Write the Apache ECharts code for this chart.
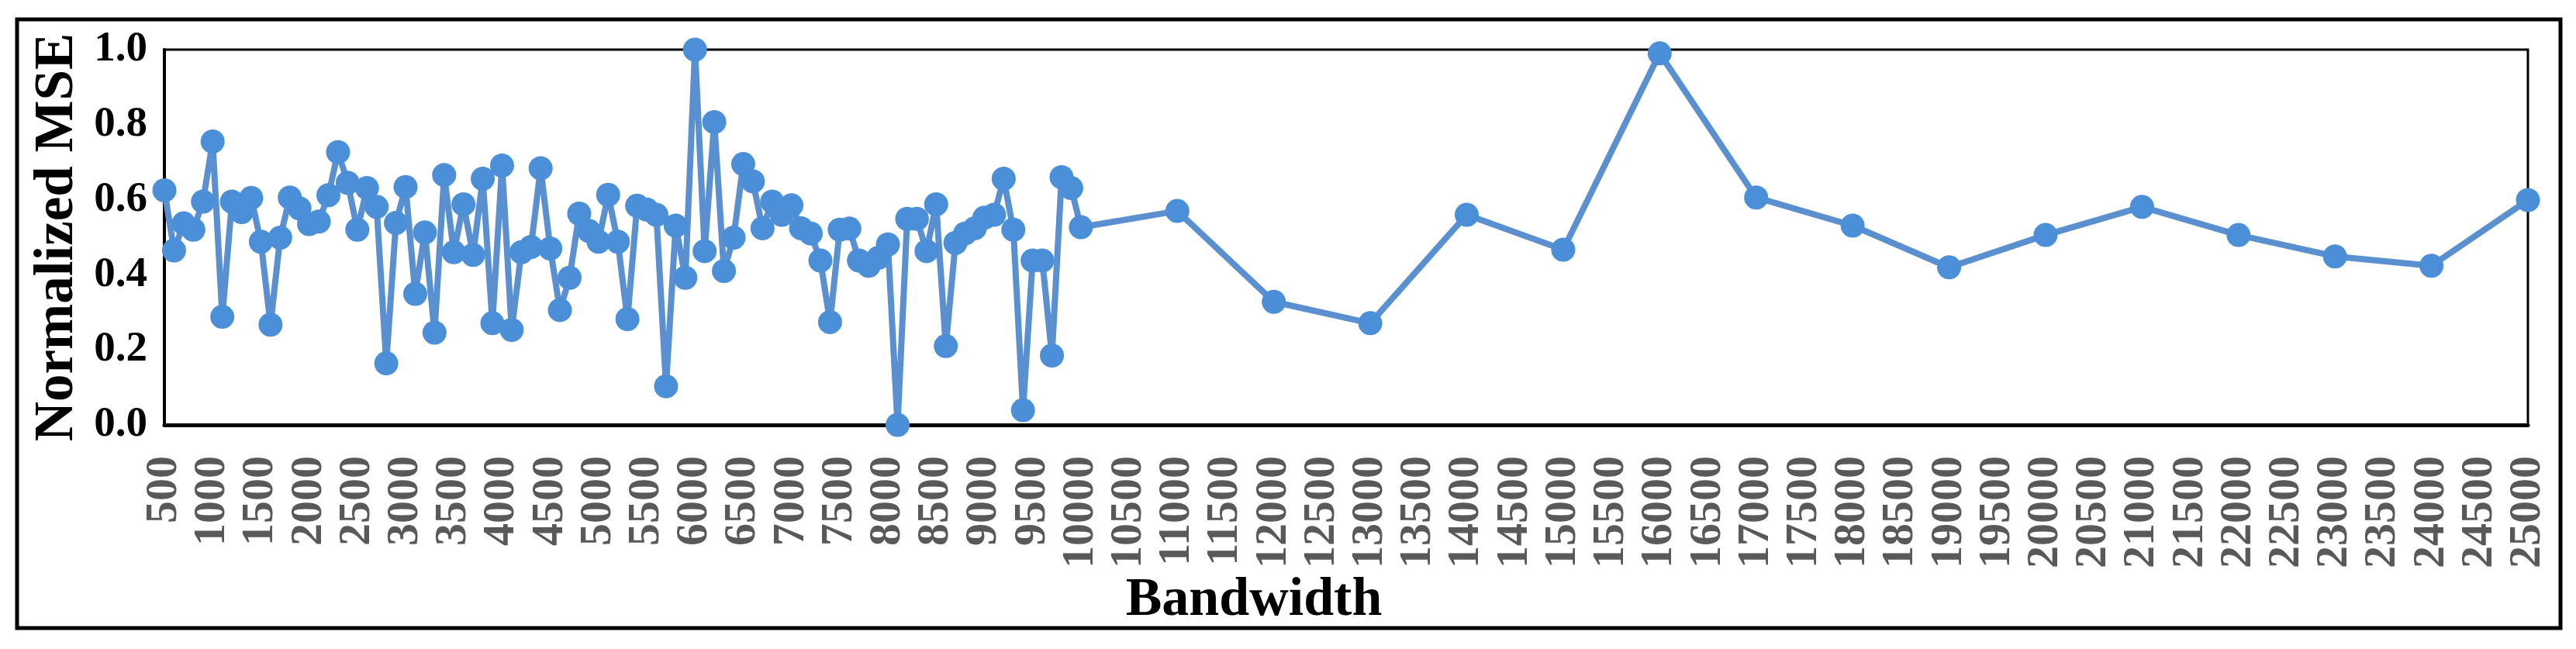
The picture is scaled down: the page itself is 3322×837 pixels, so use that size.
<!DOCTYPE html>
<html>
<head>
<meta charset="utf-8">
<script src="https://cdn.jsdelivr.net/npm/echarts@6/dist/echarts.min.js"></script>
<style>
html,body{margin:0;padding:0;background:#fff;}
#c{width:3322px;height:837px;}
</style>
</head>
<body>
<div id="c"></div>
<script>
// Bandwidth values (x)
const bandwidthDense = [500,600,700,800,900,1000,1100,1200,1300,1400,1500,1600,1700,1800,1900,2000,2100,2200,2300,2400,2500,2600,2700,2800,2900,3000,3100,3200,3300,3400,3500,3600,3700,3800,3900,4000,4100,4200,4300,4400,4500,4600,4700,4800,4900,5000,5100,5200,5300,5400,5500,5600,5700,5800,5900,6000,6100,6200,6300,6400,6500,6600,6700,6800,6900,7000,7100,7200,7300,7400,7500,7600,7700,7800,7900,8000,8100,8200,8300,8400,8500,8600,8700,8800,8900,9000,9100,9200,9300,9400,9500,9600,9700,9800,9900,10000];
const bandwidthSparse = [11000,12000,13000,14000,15000,16000,17000,18000,19000,20000,21000,22000,23000,24000,25000];
// Normalized MSE values
const mseDense = [0.625,0.465,0.537,0.52,0.595,0.755,0.288,0.595,0.567,0.605,0.488,0.267,0.499,0.606,0.577,0.535,0.542,0.612,0.727,0.645,0.52,0.631,0.581,0.164,0.538,0.634,0.349,0.513,0.246,0.666,0.46,0.588,0.453,0.656,0.271,0.691,0.253,0.46,0.474,0.684,0.47,0.306,0.392,0.563,0.517,0.488,0.613,0.488,0.282,0.584,0.574,0.56,0.103,0.531,0.392,1.0,0.463,0.807,0.41,0.499,0.695,0.649,0.524,0.595,0.56,0.585,0.524,0.51,0.438,0.274,0.52,0.523,0.438,0.424,0.445,0.481,0.0,0.549,0.549,0.463,0.588,0.21,0.485,0.51,0.524,0.552,0.56,0.656,0.52,0.039,0.438,0.438,0.185,0.66,0.631,0.527];
const mseSparse = [0.57,0.328,0.271,0.56,0.467,0.99,0.606,0.531,0.42,0.506,0.581,0.506,0.449,0.424,0.599];
// Axis settings
const xMin = 500, xMax = 25000, xStep = 500;
const yTicks = [0.0,0.2,0.4,0.6,0.8,1.0];
const xTitle = 'Bandwidth';
const yTitle = 'Normalized MSE';

const xs = bandwidthDense.concat(bandwidthSparse);
const ys = mseDense.concat(mseSparse);
const data = xs.map((x,i)=>[x, ys[i]]);

const FONT = "'Liberation Serif','Times New Roman',serif";
const chart = echarts.init(document.getElementById('c'));
chart.setOption({
  animation:false,
  backgroundColor:'#fff',
  grid:{left:212,right:62,top:64,bottom:289,show:true,borderColor:'#000',borderWidth:3,containLabel:false},
  xAxis:{
    type:'value',min:xMin,max:xMax,interval:xStep,
    axisLine:{show:true,lineStyle:{color:'#000',width:5}},
    axisTick:{show:false},
    splitLine:{show:false},
    axisLabel:{rotate:90,margin:40,color:'#595959',fontFamily:FONT,fontWeight:'bold',fontSize:58,showMinLabel:true,showMaxLabel:true,hideOverlap:false,formatter:v=>String(v)}
  },
  yAxis:{
    type:'value',min:yTicks[0],max:yTicks[yTicks.length-1],interval:0.2,
    name:yTitle,nameLocation:'middle',nameRotate:90,nameGap:100,
    nameTextStyle:{fontFamily:FONT,fontWeight:'bold',fontSize:71,color:'#000'},
    axisLine:{show:true,lineStyle:{color:'#000',width:4}},
    axisTick:{show:false},
    splitLine:{show:false},
    axisLabel:{margin:22,color:'#000',fontFamily:FONT,fontWeight:'bold',fontSize:55,formatter:v=>v.toFixed(1)}
  },
  graphic:[
    {type:'rect',shape:{x:22,y:25,width:3280,height:785},style:{fill:'none',stroke:'#000',lineWidth:5},z:100},
    {type:'text',x:1617,y:775,style:{text:xTitle,fontFamily:FONT,fontWeight:'bold',fontSize:70,fill:'#000',textAlign:'center',textVerticalAlign:'middle'}}
  ],
  series:[{
    type:'line',data:data,
    symbol:'circle',symbolSize:31,
    lineStyle:{color:'#5A90CF',width:8},
    itemStyle:{color:'#4A8FD8'},
    clip:false
  }]
});
</script>
</body>
</html>
